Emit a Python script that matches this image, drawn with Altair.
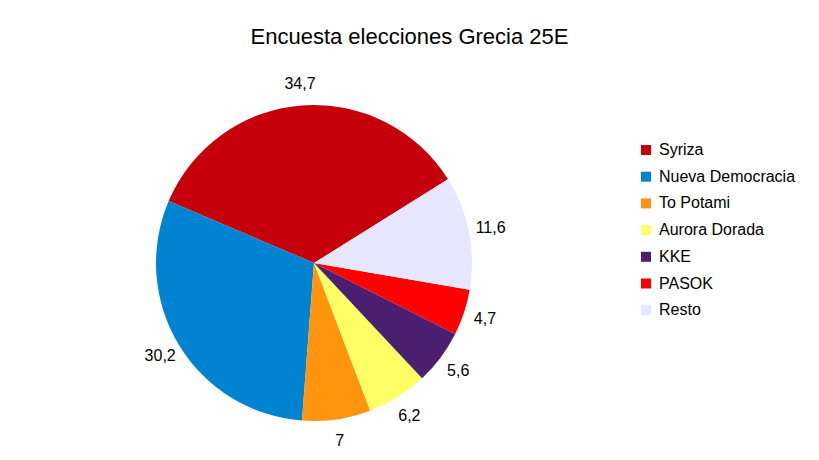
import math
import altair as alt
import pandas as pd

parties = ["Syriza", "Nueva Democracia", "To Potami", "Aurora Dorada", "KKE", "PASOK", "Resto"]
values = [34.7, 30.2, 7, 6.2, 5.6, 4.7, 11.6]
labels = ["34,7", "30,2", "7", "6,2", "5,6", "4,7", "11,6"]
colors = ["#C5000B", "#0084D1", "#FF950E", "#FFFF66", "#4B1F6F", "#FF0000", "#E6E6FF"]
draw_order = [6, 5, 4, 3, 2, 1, 0]

df = pd.DataFrame({"partido": parties, "valor": values, "etiqueta": labels, "orden": draw_order})

start = math.radians(58)
FONT = "Liberation Sans"
CX, CY = 306, 255

base = alt.Chart(df).encode(
    theta=alt.Theta("valor:Q", stack=True, scale=alt.Scale(range=[start, start + 2 * math.pi])),
    order=alt.Order("orden:Q"),
)

arcs = base.mark_arc(outerRadius=158).encode(
    x=alt.value(CX),
    y=alt.value(CY),
    color=alt.Color(
        "partido:N",
        scale=alt.Scale(domain=parties, range=colors),
        legend=alt.Legend(
            title=None,
            orient="none",
            legendX=630,
            legendY=134,
            symbolType="square",
            symbolSize=100,
            symbolStrokeWidth=0,
            labelFont=FONT,
            labelFontSize=16,
            labelColor="#000000",
            labelOffset=5,
            rowPadding=10.7,
            padding=0,
        ),
    ),
)

text = base.mark_text(radius=180, font=FONT, fontSize=16, color="#000000").encode(
    x=alt.value(CX),
    y=alt.value(CY),
    text="etiqueta:N",
)

chart = (
    alt.layer(arcs, text)
    .properties(
        width=803,
        height=444,
        autosize=alt.AutoSizeParams(type="none"),
        padding=0,
        title=alt.TitleParams(
            "Encuesta elecciones Grecia 25E",
            font=FONT,
            fontSize=22,
            fontWeight="normal",
            color="#000000",
            anchor="middle",
            baseline="middle",
            offset=0,
            dy=51,
        ),
    )
    .configure_view(stroke=None)
)

chart.save("out.html", embed_options={"renderer": "svg", "actions": False})
